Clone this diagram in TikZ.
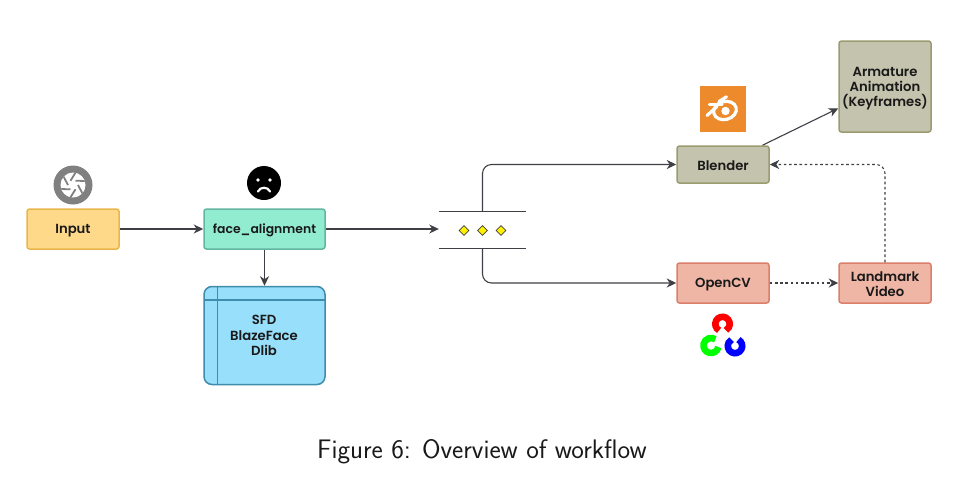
\documentclass[tikz,border=0pt]{standalone}
\usepackage{fontspec}
\setmainfont{Poppins}[BoldFont=* SemiBold]
\usetikzlibrary{arrows.meta,calc,shapes.geometric}
\definecolor{lineC}{HTML}{3F3F46}
\definecolor{cInputF}{HTML}{FFD98A}\definecolor{cInputD}{HTML}{E8B64A}
\definecolor{cFaceF}{HTML}{92ECD0}\definecolor{cFaceD}{HTML}{62B5A0}
\definecolor{cTblF}{HTML}{98DFFB}\definecolor{cTblD}{HTML}{3F8CAB}
\definecolor{cOliveF}{HTML}{C3C3AE}\definecolor{cOliveD}{HTML}{9B9B70}
\definecolor{cRedF}{HTML}{EFB5A5}\definecolor{cRedD}{HTML}{DB7F6B}
\definecolor{cDia}{HTML}{FFF000}\definecolor{cBlender}{HTML}{EC8A2C}
\newcommand{\lft}{\rule{0pt}{12.5pt}}
\tikzset{
  box/.style={draw,line width=1.5pt,rounded corners=2.5pt,align=center,inner sep=0pt,font=\fontsize{13.2}{15}\selectfont\bfseries,text=black!90},
  yellowbox/.style={box,fill=cInputF,draw=cInputD},
  greenbox/.style={box,fill=cFaceF,draw=cFaceD,font=\fontsize{12.4}{15}\selectfont\bfseries},
  bluebox/.style={box,fill=cTblF,draw=cTblD,rounded corners=8pt},
  oliveBox/.style={box,fill=cOliveF,draw=cOliveD},
  redbox/.style={box,fill=cRedF,draw=cRedD},
  conn/.style={draw=lineC,line width=1.1pt,-{Stealth[length=9.5pt,width=9pt,inset=3pt]},rounded corners=9pt},
  dotconn/.style={conn,dash pattern=on 2.6pt off 2.6pt},
  bar/.style={draw=lineC,line width=1.1pt},
  dia/.style={diamond,draw=black!75,fill=cDia,line width=.8pt,minimum size=10pt,inner sep=0pt},
  capt/.style={font=\sffamily\fontsize{26.8}{30}\selectfont,text=black!90}
}
\begin{document}
\begin{tikzpicture}[x=1pt,y=-1pt]
\useasboundingbox (0,0) rectangle (965,480);
\node[yellowbox,minimum width=92pt,minimum height=40pt] (input) at (73,229) {\lft Input};
\node[greenbox,minimum width=121pt,minimum height=40pt] (face) at (264.5,229) {\lft face\_alignment};
\node[bluebox,minimum width=121pt,minimum height=98pt] (tbl) at (264.5,335.5) {};
\draw[draw=cTblD,line width=1.5pt] (217.5,286.5) -- (217.5,384.5) (204,300) -- (325,300);
\node[font=\fontsize{13.2}{15.3}\selectfont\bfseries,align=center,inner sep=0pt,text=black!90] (tbltxt) at (264,335.5) {SFD\\BlazeFace\\Dlib};
\node[oliveBox,minimum width=92pt,minimum height=37pt] (blender) at (723,164.5) {\lft Blender};
\node[oliveBox,minimum width=92pt,minimum height=91pt] (arm) at (885,86.5) {\lft Armature\\Animation\\(Keyframes)};
\node[redbox,minimum width=92pt,minimum height=40pt] (opencv) at (723,283) {\lft OpenCV};
\node[redbox,minimum width=92pt,minimum height=40pt] (land) at (885,283) {\lft Landmark\\Video};
% gateway
\node[minimum width=87pt,minimum height=36.5pt,inner sep=0pt] (gw) at (482.5,230.3) {};
\draw[bar] (gw.north west) -- (gw.north east) (gw.south west) -- (gw.south east);
\node[dia] (d1) at (464,230.5) {};
\node[dia] (d2) at (482.5,230.5) {};
\node[dia] (d3) at (501,230.5) {};
% connectors
\draw[conn] (input.east) -- (face.west);
\draw[conn] (face.south) -- (tbl.north);
\draw[conn] (face.east) -- (gw.west |- face.east);
\draw[conn] (gw.north) |- (blender.west);
\draw[conn] (gw.south) |- (opencv.west);
\draw[conn] (blender.26) -- (arm.205);
\draw[dotconn] (opencv.east) -- (land.west);
\draw[dotconn] (land.north) |- (blender.east);
% camera icon
\fill[black!50] (73,185) circle (19.5);
\fill[white] (73,185) circle (12.5);
\begin{scope}
\clip (73,185) circle (12.5);
\foreach \a in {0,60,...,300}
  \draw[black!50,line width=1.8pt] ($(73,185)+(\a:5)$) -- ++(\a+62:16);
\end{scope}
% sad face
\fill[black] (264,183) circle (17);
\fill[white] (258,180) circle (1.9) (270,180) circle (1.9);
\draw[white,line width=2.2pt,line cap=round] (258,191.5) .. controls (260,186.5) and (268,186.5) .. (270,191.5);
% blender logo
\fill[cBlender] (700,86) rectangle (745.5,132);
\begin{scope}
\draw[white,line width=3.2pt,rotate around={15:(725,110.5)}] (725,110.5) ellipse (11.5 and 9);
\fill[cBlender] (725.5,111) circle (6);
\fill[white] (725.5,111) circle (4.2);
\draw[white,line width=3.2pt,line cap=round] (707,115.5) -- (717,106.5);
\draw[white,line width=3.2pt,line cap=round] (709.5,104.8) -- (722,104.8);
\draw[white,line width=3.2pt,line cap=round] (719,101.5) -- (726.5,96.8);
\end{scope}
% opencv logo
\fill[white] (700,313) rectangle (746,357);
\draw[red,line width=6.6pt] ($(722.5,324)+(118:7.2)$) arc[start angle=118,end angle=422,radius=7.2];
\draw[green,line width=6.6pt] ($(711,345.5)+(12:7.5)$) arc[start angle=12,end angle=305,radius=7.5];
\draw[blue,line width=6.6pt] ($(735,346)+(298:7.2)$) arc[start angle=298,end angle=602,radius=7.2];
% caption
\node[capt] (cap) at (482,452) {Figure 6: Overview of workflow};
\end{tikzpicture}
\end{document}
